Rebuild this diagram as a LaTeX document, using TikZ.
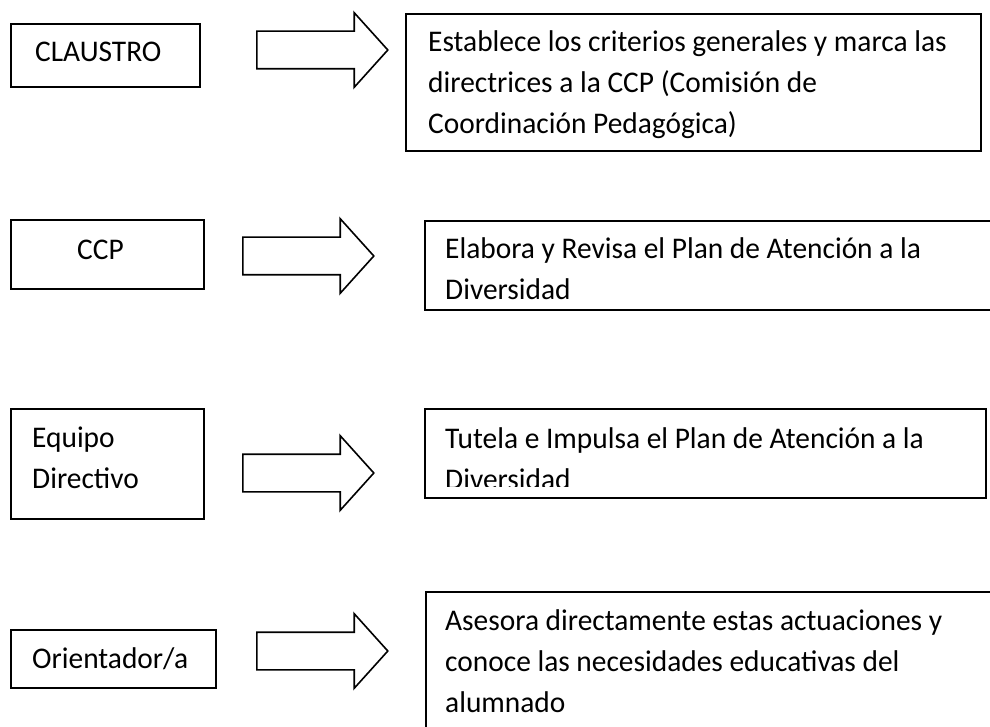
\documentclass[tikz,border=0pt]{standalone}
\usepackage{fontspec}
\setmainfont{Carlito}[FakeStretch=0.98]
\usetikzlibrary{shapes.arrows,calc}

\tikzset{
  caja/.style={draw, line width=1.6pt, rectangle, inner sep=0pt, anchor=north west},
  flecha/.style={draw, line width=1.6pt, single arrow, inner xsep=0pt, inner ysep=18pt,
    anchor=tail, minimum height=131pt, minimum width=73pt,
    single arrow head extend=18.5pt, single arrow tip angle=96},
  texto/.style={anchor=base west, align=left, inner sep=0pt,
    font=\fontsize{30}{41}\selectfont}
}

\begin{document}
\begin{tikzpicture}[x=1pt,y=-1pt]
\clip (0,0) rectangle (990,727);
% organos (izquierda)
\node[caja, minimum width=189pt, minimum height=63pt] (claustro) at (10,23) {};
\node[caja, minimum width=193pt, minimum height=69pt] (ccp) at (10,219) {};
\node[caja, minimum width=193pt, minimum height=110pt] (equipo) at (10,408) {};
\node[caja, minimum width=205pt, minimum height=58pt] (orientador) at (10,629) {};
% (base = ultima linea)
\node[texto] (tclaustro) at ($(claustro.north west)+(25,39)$) {CLAUSTRO};
\node[texto] (tccp) at ($(ccp.north west)+(67,41)$) {CCP};
\node[texto] (tequipo) at ($(equipo.north west)+(22,80)$) {Equipo\\Directivo};
\node[texto] (torientador) at ($(orientador.north west)+(22,39)$) {Orientador/a};

% flechas
\node[flecha] (f1) at (256,50) {};
\node[flecha] (f2) at (242,256) {};
\node[flecha] (f3) at (242,473) {};
\node[flecha] (f4) at (256,651) {};

% funciones (derecha)
\node[caja, minimum width=575pt, minimum height=137pt] (r1) at (405,13) {};
\node[caja, minimum width=600pt, minimum height=89pt] (r2) at (424,220) {};
\node[caja, minimum width=561pt, minimum height=89pt] (r3) at (424,408) {};
\node[caja, minimum width=600pt, minimum height=200pt] (r4) at (425,591) {};
\node[texto] (t1) at ($(r1.north west)+(23,121)$)
  {Establece los criterios generales y marca las\\directrices a la CCP (Comisión de\\Coordinación Pedagógica)};
\node[texto] (t2) at ($(r2.north west)+(21,79)$)
  {Elabora y Revisa el Plan de Atención a la\\Diversidad};
\begin{scope}
  \clip (r3.north west) rectangle ($(r3.south east)+(0,-12)$);
  \node[texto] (t3) at ($(r3.north west)+(21,81)$)
    {Tutela e Impulsa el Plan de Atención a la\\Diversidad};
\end{scope}
\node[texto] (t4) at ($(r4.north west)+(20,121)$)
  {Asesora directamente estas actuaciones y\\conoce las necesidades educativas del\\alumnado};
\end{tikzpicture}
\end{document}
